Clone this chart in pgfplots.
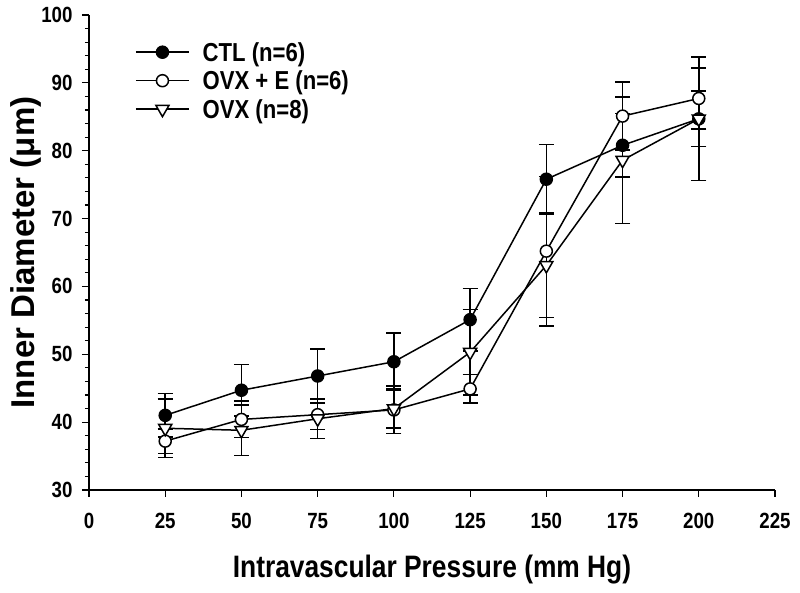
\documentclass[border=0pt]{standalone}
\usepackage{fontspec}
\setmainfont[FakeStretch=0.85]{Liberation Sans}
\newfontfamily\ylabfont{Liberation Sans}
\usepackage{pgfplots}
\pgfplotsset{compat=1.18}
\begin{document}
\begin{tikzpicture}
\begin{axis}[
  at={(0pt,0pt)}, anchor=south west,
  scale only axis, width=686pt, height=475pt,
  xmin=0, xmax=225, ymin=30, ymax=100,
  axis lines=left, axis line style={-, line width=1.2pt},
  xtick={0,25,...,225}, ytick={30,40,...,100}, minor y tick num=4,
  tick align=outside, major tick length=7pt, minor tick length=4pt,
  tick style={line width=1.2pt, black},
  /pgf/number format/assume math mode=true,
  ticklabel style={font=\bfseries\fontsize{22}{22}\selectfont},
  xticklabel style={yshift=-13pt},
  yticklabel style={xshift=-6pt},
  xlabel={Intravascular Pressure (mm Hg)},
  ylabel={Inner Diameter (μm)},
  xlabel style={font=\bfseries\fontsize{31}{31}\selectfont, at={([yshift=-80pt]axis description cs:0.5,0)}, anchor=center},
  ylabel style={font=\ylabfont\bfseries\fontsize{33}{33}\selectfont, at={([xshift=-63pt]axis description cs:0,0.5)}, anchor=center},
  legend cell align=left,
  legend style={draw=none, fill=none, at={(axis description cs:0,1)}, anchor=north west,
    xshift=43pt, yshift=-26pt, font=\bfseries\fontsize{26}{26}\selectfont,
    nodes={inner sep=0pt, text depth=0pt, text height=18pt}, row sep=10.5pt, column sep=13pt},
  legend image code/.code={\draw[#1, mark repeat=2, mark phase=2] plot coordinates {(0pt,0pt) (26.5pt,0pt) (53pt,0pt)};},
  every axis plot/.append style={line width=1.5pt, black},
  error bars/y dir=both, error bars/y explicit,
  error bars/error bar style={line width=1.5pt},
  error bars/error mark options={rotate=90, mark size=7.5pt, line width=1.5pt},
]
\addplot[mark=*, mark size=6pt, mark options={fill=black}] coordinates {
  (25,41.0) +- (0,3.2)
  (50,44.7) +- (0,3.8)
  (75,46.8) +- (0,4.0)
  (100,48.9) +- (0,4.2)
  (125,55.1) +- (0,4.6)
  (150,75.8) +- (0,5.1)
  (175,80.8) +- (0,4.7)
  (200,84.7) +- (0,4.1)
};
\addlegendentry{CTL (n=6)}
\addplot[mark=*, mark size=6pt, mark options={fill=white}] coordinates {
  (25,37.2) +- (0,1.8)
  (50,40.4) +- (0,2.7)
  (75,41.1) +- (0,2.2)
  (100,41.8) +- (0,3.5)
  (125,44.9) +- (0,2.1)
  (150,65.2) +- (0,11.0)
  (175,85.1) +- (0,5.0)
  (200,87.7) +- (0,4.5)
};
\addlegendentry{OVX + E (n=6)}
\addplot[mark=triangle*, mark size=7.5pt, mark options={fill=white, rotate=180}] coordinates {
  (25,39.1) +- (0,4.3)
  (50,38.8) +- (0,3.7)
  (75,40.5) +- (0,2.9)
  (100,42.0) +- (0,2.9)
  (125,50.3) +- (0,6.3)
  (150,63.1) +- (0,7.7)
  (175,78.6) +- (0,9.3)
  (200,84.7) +- (0,9.1)
};
\addlegendentry{OVX (n=8)}
\end{axis}
\pgfresetboundingbox
\useasboundingbox (-89pt,-103pt) rectangle (711pt,490pt);
\end{tikzpicture}
\end{document}
